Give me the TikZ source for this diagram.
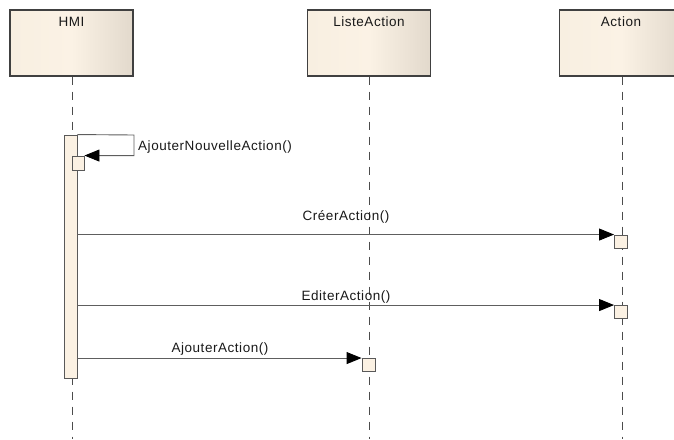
\documentclass[tikz,border=0pt]{standalone}
\usepackage{fontspec}
\setmainfont{Liberation Sans}[LetterSpace=4]
\usetikzlibrary{arrows.meta}
\definecolor{headleft}{HTML}{F8EFE1}
\definecolor{headmid}{HTML}{FBF2E5}
\definecolor{headright}{HTML}{E2D9CC}
\definecolor{execfill}{HTML}{FBF1E3}
\definecolor{linegray}{HTML}{5E5E5E}
\begin{document}
\begin{tikzpicture}[x=1pt, y=-1pt,
    font=\fontsize{13.5}{15}\selectfont,
    head/.style={draw=black!75, line width=1.2pt, left color=headleft, right color=headright,
      middle color=headmid, minimum width=123pt, minimum height=66pt, inner sep=0pt,
      text height=16pt, text depth=50pt, text=black!90},
    lifeline/.style={draw=black!70, line width=0.8pt, dash pattern=on 8pt off 7pt},
    msg/.style={draw=linegray, line width=0.9pt, -{Triangle[length=15pt, width=12pt, color=black]}},
    exec/.style={draw=black!65, fill=execfill, line width=0.9pt, inner sep=0pt,
      minimum width=12pt, minimum height=13pt},
    lbl/.style={text=black!90, inner sep=0pt}]
  \useasboundingbox (0,0) rectangle (674,439);
  % lifeline heads
  \node[head] (hmi) at (71.5,43) {HMI};
  \node[head] (liste) at (369,43) {ListeAction};
  \node[head] (action) at (621,43) {Action};
  % lifelines
  \coordinate (hmiEnd) at (72,439);
  \coordinate (listeEnd) at (369,439);
  \coordinate (actionEnd) at (622,439);
  \draw[lifeline] (hmi.south -| hmiEnd) -- (hmiEnd);
  \draw[lifeline] (liste.south -| listeEnd) -- (listeEnd);
  \draw[lifeline] (action.south -| actionEnd) -- (actionEnd);
  % activations
  \node[exec, minimum width=13pt, minimum height=243pt] (hmiBar) at (70.5,256.5) {};
  \node[exec, minimum height=14pt] (nouv) at (78,163) {};
  \node[exec, minimum width=13pt] (creer) at (621,241.5) {};
  \node[exec, minimum width=13pt] (editer) at (621,312) {};
  \node[exec, minimum width=13pt] (ajout) at (368.5,365) {};
  % messages
  \coordinate (loop) at (134,135);
  \draw[msg] (hmiBar.north east) -- (loop) |- (nouv.north east);
  \draw[msg] (hmiBar.east |- creer.north west) -- (creer.north west);
  \draw[msg] (hmiBar.east |- editer.north west) -- (editer.north west);
  \draw[msg] (hmiBar.east |- ajout.north west) -- (ajout.north west);
  % labels
  \node[lbl, anchor=base west] (lblNouv) at (138,150) {AjouterNouvelleAction()};
  \node[lbl, anchor=base] (lblCreer) at (346,220) {CréerAction()};
  \node[lbl, anchor=base] (lblEditer) at (346,300) {EditerAction()};
  \node[lbl, anchor=base] (lblAjout) at (220,352) {AjouterAction()};
\end{tikzpicture}
\end{document}
